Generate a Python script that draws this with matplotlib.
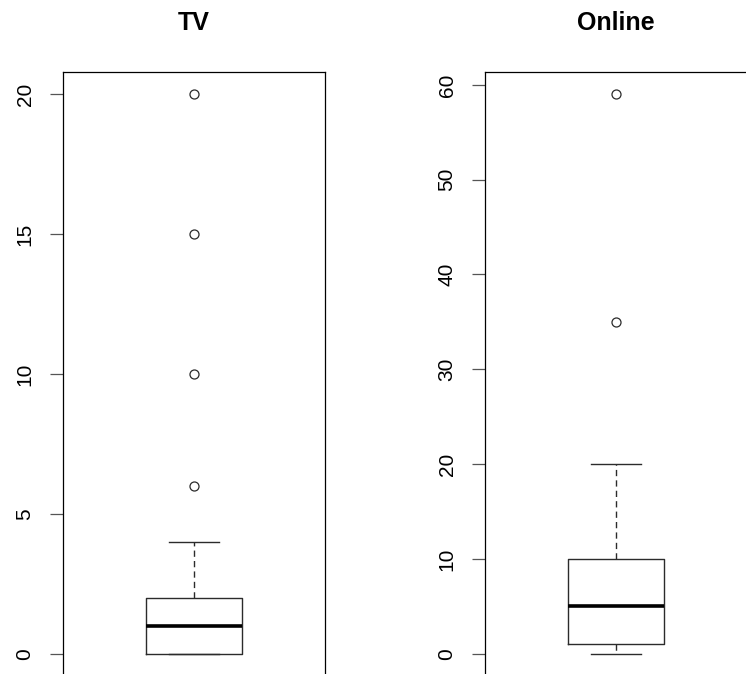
import matplotlib
matplotlib.use('Agg')
import matplotlib.pyplot as plt

# values
titles = ['TV', 'Online']
q1 = [0, 1]
med = [1, 5]
q3 = [2, 10]
whislo = [0, 0]
whishi = [4, 20]
fliers = [[6, 10, 15, 20], [35, 59]]
yticks = [[0, 5, 10, 15, 20], [0, 10, 20, 30, 40, 50, 60]]

plt.rcParams['font.family'] = ['Liberation Sans', 'DejaVu Sans']
fig = plt.figure(figsize=(7.46, 6.74), dpi=100)

lefts = [63 / 746, 485 / 746]
line_col = '#2b2b2b'

for i, name in enumerate(titles):
    ax = fig.add_axes([lefts[i], -2 / 674, 262 / 746, 604 / 674])
    stats = [dict(med=med[i], q1=q1[i], q3=q3[i], whislo=whislo[i],
                  whishi=whishi[i], fliers=fliers[i])]
    ax.bxp(stats, positions=[1], widths=0.37, capwidths=0.19, showfliers=True,
           boxprops=dict(color=line_col, linewidth=1.0),
           medianprops=dict(color='black', linewidth=2.6, solid_capstyle='butt'),
           whiskerprops=dict(color=line_col, linewidth=1.0, linestyle=(0, (4.5, 3))),
           capprops=dict(color=line_col, linewidth=1.0),
           flierprops=dict(marker='o', markerfacecolor='none', markeredgecolor=line_col,
                           markersize=6.5, markeredgewidth=0.9, linestyle='none'))

    # R style limits: 4% padding on the data range
    lo = min(whislo[i], min(fliers[i]))
    hi = max(whishi[i], max(fliers[i]))
    pad = 0.04 * (hi - lo)
    ax.set_ylim(lo - pad, hi + pad)
    ax.set_xlim(0.5, 1.5)

    ax.set_xticks([])
    ax.set_yticks(yticks[i])
    ax.tick_params(axis='y', length=9.5, width=0.9, color='#555555', pad=11,
                   labelsize=15, labelrotation=90)
    for lab in ax.get_yticklabels():
        lab.set_va('center')
    for s in ax.spines.values():
        s.set_linewidth(0.9)
        s.set_color('black')

    ax.set_title(name, fontsize=18, fontweight='bold', pad=30)

fig.savefig('out.png', dpi=100)
